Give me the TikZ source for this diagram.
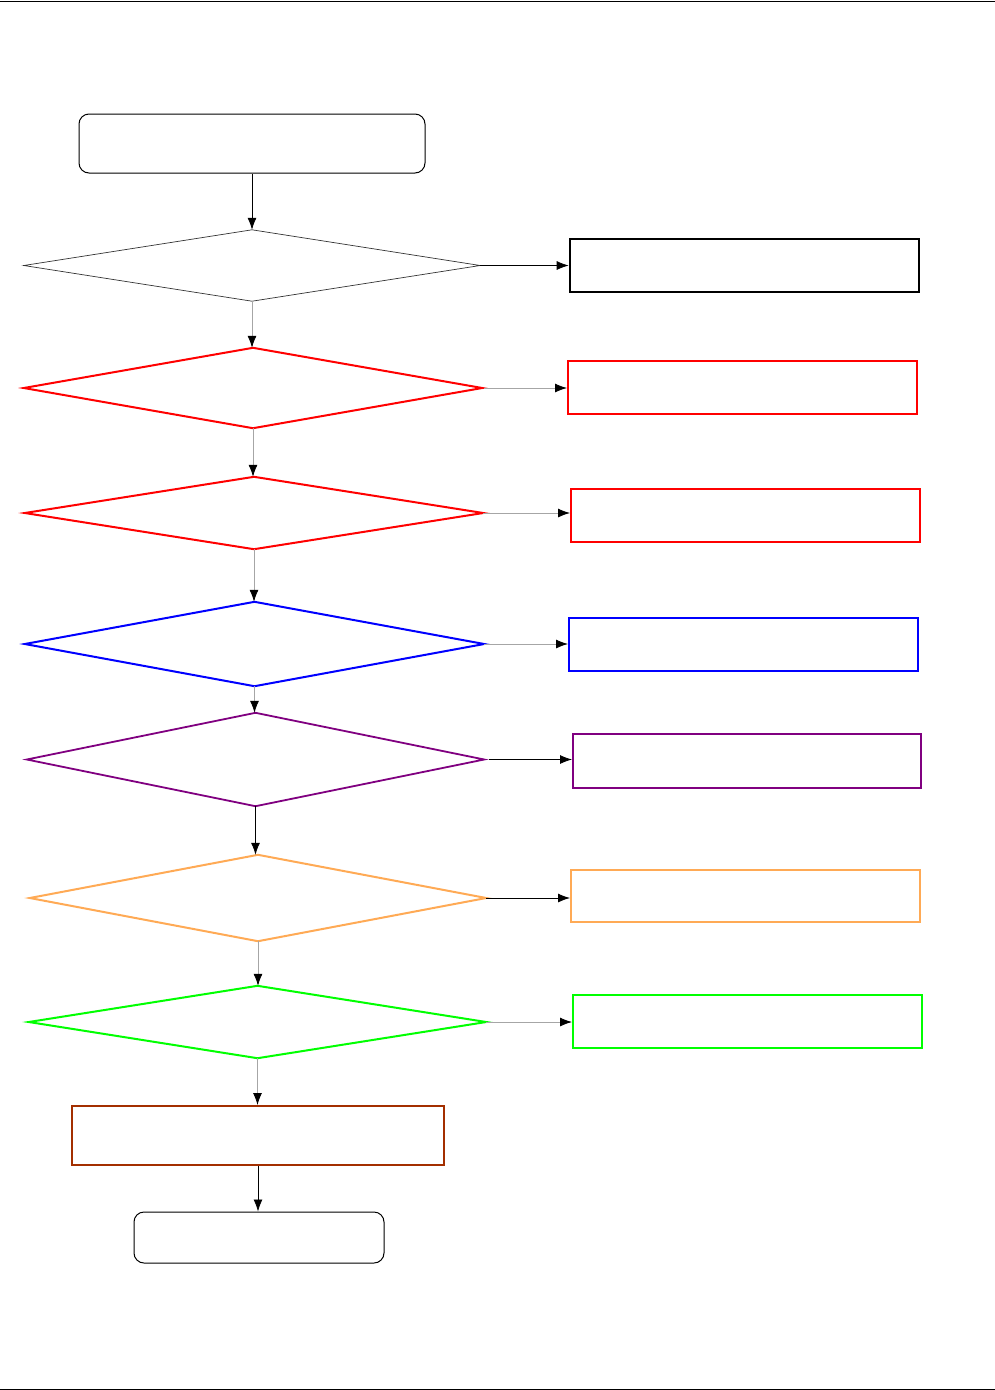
\documentclass[tikz,border=0pt]{standalone}
\usetikzlibrary{arrows.meta}
\definecolor{cpurple}{HTML}{800080}
\definecolor{corange}{HTML}{FFAA55}
\definecolor{cgreen}{HTML}{00FF00}
\definecolor{cbrown}{HTML}{A32F00}
\begin{document}
\begin{tikzpicture}[x=1pt,y=-1pt,
  slot/.style={draw=none,inner sep=0pt,minimum width=#1},
  rbox/.style={draw,line width=1pt,rounded corners=10pt,inner sep=0pt},
  sbox/.style={draw,line width=2pt,inner sep=0pt},
  arr/.style={-{Latex[length=12pt,width=9pt]},line width=0.8pt},
  garr/.style={draw=gray!70,-{Latex[length=12pt,width=9pt,color=black]},line width=0.8pt}]
\useasboundingbox (0,0) rectangle (995,1390);
\draw[line width=1pt] (0,1) -- (995,1);
\draw[line width=1pt] (0,1389) -- (995,1389);
% start and end
\node[rbox,minimum width=346pt,minimum height=59pt] (start) at (252,143.5) {};
\node[rbox,minimum width=250pt,minimum height=51pt] (stop) at (259,1237.5) {};
% diamonds (slots)
\node[slot=456pt,minimum height=71pt] (d1) at (252,265.5) {};
\node[slot=458pt,minimum height=80pt] (d2) at (253,388) {};
\node[slot=458pt,minimum height=72pt] (d3) at (254,513) {};
\node[slot=459pt,minimum height=84pt] (d4) at (254.5,644) {};
\node[slot=457pt,minimum height=93pt] (d5) at (255.5,759.5) {};
\node[slot=456pt,minimum height=86pt] (d6) at (258,898) {};
\node[slot=457pt,minimum height=72pt] (d7) at (257.5,1022) {};
\draw[line width=0.7pt,black!80] (d1.west)--(d1.north)--(d1.east)--(d1.south)--cycle;
\draw[line width=2pt,red] (d2.west)--(d2.north)--(d2.east)--(d2.south)--cycle;
\draw[line width=2pt,red] (d3.west)--(d3.north)--(d3.east)--(d3.south)--cycle;
\draw[line width=2pt,blue] (d4.west)--(d4.north)--(d4.east)--(d4.south)--cycle;
\draw[line width=1.8pt,cpurple] (d5.west)--(d5.north)--(d5.east)--(d5.south)--cycle;
\draw[line width=2pt,corange] (d6.west)--(d6.north)--(d6.east)--(d6.south)--cycle;
\draw[line width=2pt,cgreen] (d7.west)--(d7.north)--(d7.east)--(d7.south)--cycle;
% right boxes
\node[sbox,line width=2.6pt,minimum width=349pt,minimum height=53pt] (b1) at (744.5,265.5) {};
\node[sbox,draw=red,minimum width=349pt,minimum height=53pt] (b2) at (742.5,387.5) {};
\node[sbox,draw=red,minimum width=349pt,minimum height=53pt] (b3) at (745.5,515.5) {};
\node[sbox,draw=blue,minimum width=349pt,minimum height=53pt] (b4) at (743.5,644.5) {};
\node[sbox,draw=cpurple,minimum width=348pt,minimum height=54pt] (b5) at (747,761) {};
\node[sbox,draw=corange,minimum width=349pt,minimum height=52pt] (b6) at (745.5,896) {};
\node[sbox,draw=cgreen,minimum width=349pt,minimum height=53pt] (b7) at (747.5,1021.5) {};
\node[sbox,draw=cbrown,minimum width=372pt,minimum height=59pt] (b8) at (258,1135.5) {};
% vertical connectors
\draw[arr] (start.south) -- (start.south |- d1.north);
\draw[garr] (d1.south) -- (d1.south |- d2.north);
\draw[garr] (d2.south) -- (d2.south |- d3.north);
\draw[garr] (d3.south) -- (d3.south |- d4.north);
\draw[garr] (d4.south) -- (d4.south |- d5.north);
\draw[arr] (d5.south) -- (d5.south |- d6.north);
\draw[garr] (d6.south) -- (d6.south |- d7.north);
\draw[garr] (d7.south) -- (d7.south |- b8.north);
\draw[arr] (b8.south) -- (b8.south |- stop.north);
% horizontal connectors
\draw[arr] (d1.east) -- (d1.east -| b1.west);
\draw[garr] ([xshift=2pt]d2.east) -- (d2.east -| b2.west);
\draw[garr] (d3.east) -- (d3.east -| b3.west);
\draw[garr] (d4.east) -- (d4.east -| b4.west);
\draw[arr] ([xshift=5pt]d5.east) -- (d5.east -| b5.west);
\draw[arr] (d6.east) -- (d6.east -| b6.west);
\draw[garr] (d7.east) -- (d7.east -| b7.west);
\end{tikzpicture}
\end{document}
